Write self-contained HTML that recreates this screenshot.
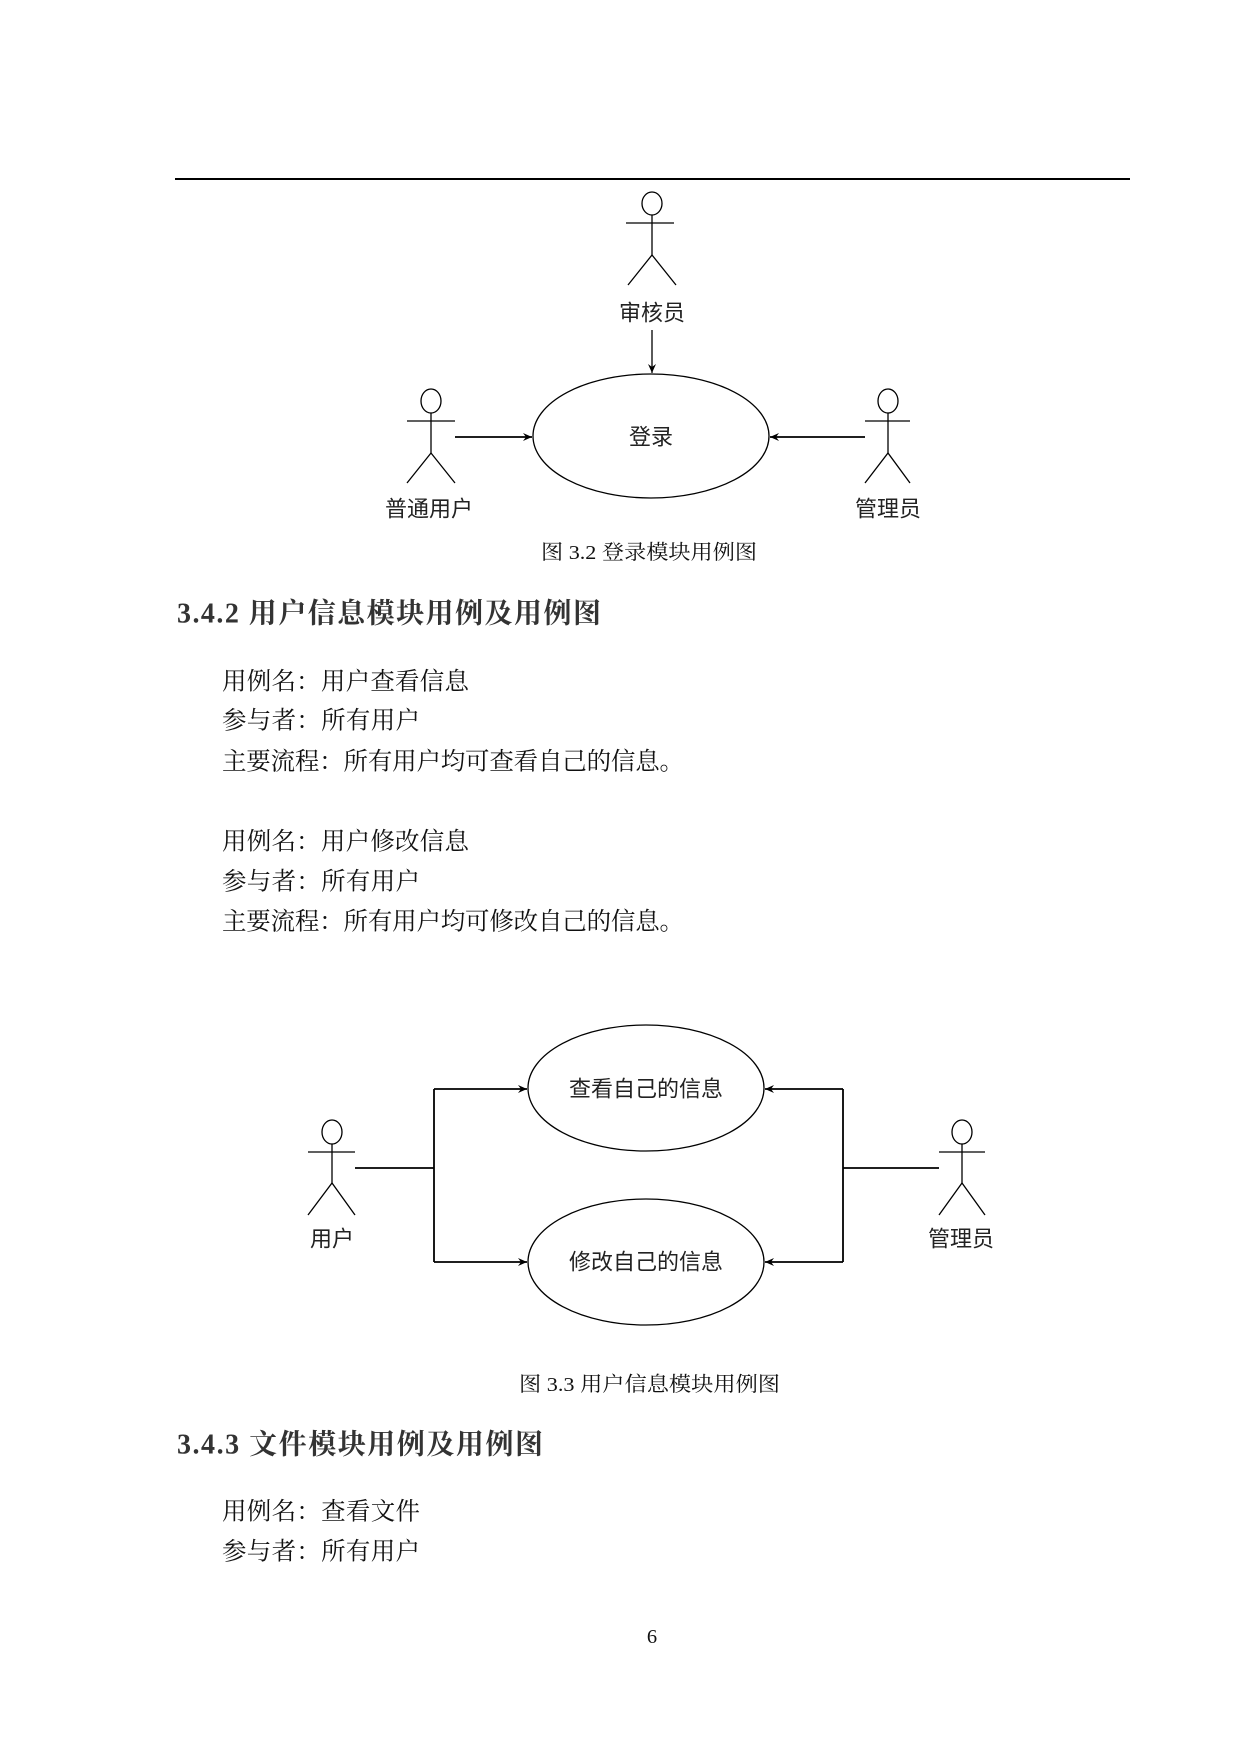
<!DOCTYPE html>
<html><head><meta charset="utf-8"><style>
html,body{margin:0;padding:0;background:#fff;}
svg{display:block;}
.b{font-family:"Liberation Serif","Noto Serif CJK SC",serif;font-size:24.5px;fill:#111;}
.h{font-family:"Liberation Serif","Noto Serif CJK SC",serif;font-size:28px;font-weight:bold;fill:#333;}
.c{font-family:"Liberation Serif","Noto Serif CJK SC",serif;font-size:20.5px;fill:#111;}
.d{font-family:"Liberation Sans","Noto Sans CJK SC",sans-serif;font-size:22px;fill:#222;}
</style></head><body>
<svg width="1240" height="1754" viewBox="0 0 1240 1754" xmlns="http://www.w3.org/2000/svg" xml:space="preserve">
<defs><marker id="a" markerWidth="10" markerHeight="10" refX="9" refY="5" orient="auto" markerUnits="userSpaceOnUse"><path d="M0,1 L9,5 L0,9 L3,5 Z" fill="#000"/></marker></defs>
<line x1="175" y1="179" x2="1130" y2="179" stroke="#000" stroke-width="2"/>
<g stroke="#000" stroke-width="1.3" fill="none">
<ellipse cx="652" cy="203.5" rx="10" ry="11.5"/>
<line x1="626" y1="223" x2="674" y2="223"/><line x1="652" y1="215" x2="652" y2="255"/>
<polyline points="628,285 652,255 676,285"/>
<ellipse cx="431" cy="401" rx="10" ry="12"/>
<line x1="407" y1="421" x2="455" y2="421"/><line x1="431" y1="413" x2="431" y2="453"/>
<polyline points="407,483 431,453 455,483"/>
<ellipse cx="888" cy="401" rx="10" ry="12"/>
<line x1="865" y1="421" x2="910" y2="421"/><line x1="888" y1="413" x2="888" y2="453"/>
<polyline points="865,483 888,453 910,483"/>
<ellipse cx="651" cy="436" rx="118" ry="62"/>
<line x1="652" y1="330" x2="652" y2="373" marker-end="url(#a)"/>
<line x1="455" y1="437" x2="532" y2="437" stroke-width="1.8" marker-end="url(#a)"/>
<line x1="865" y1="437" x2="770" y2="437" stroke-width="1.8" marker-end="url(#a)"/>
</g>
<text class="d" x="652" y="313" text-anchor="middle" dominant-baseline="central">审核员</text>
<text class="d" x="651" y="437" text-anchor="middle" dominant-baseline="central">登录</text>
<text class="d" x="429" y="509" text-anchor="middle" dominant-baseline="central">普通用户</text>
<text class="d" x="888" y="509" text-anchor="middle" dominant-baseline="central">管理员</text>
<text class="c" x="541" y="553" textLength="216" lengthAdjust="spacingAndGlyphs" dominant-baseline="central">图 3.2  登录模块用例图</text>

<text class="h" x="177" y="614" textLength="424" lengthAdjust="spacing" dominant-baseline="central">3.4.2  用户信息模块用例及用例图</text>
<text class="b" x="222" y="682" textLength="247" lengthAdjust="spacing" dominant-baseline="central">用例名：用户查看信息</text>
<text class="b" x="222" y="721" textLength="198" lengthAdjust="spacing" dominant-baseline="central">参与者：所有用户</text>
<text class="b" x="222" y="762" textLength="462" lengthAdjust="spacing" dominant-baseline="central">主要流程：所有用户均可查看自己的信息。</text>
<text class="b" x="222" y="842" textLength="247" lengthAdjust="spacing" dominant-baseline="central">用例名：用户修改信息</text>
<text class="b" x="222" y="882" textLength="198" lengthAdjust="spacing" dominant-baseline="central">参与者：所有用户</text>
<text class="b" x="222" y="922" textLength="462" lengthAdjust="spacing" dominant-baseline="central">主要流程：所有用户均可修改自己的信息。</text>

<g stroke="#000" stroke-width="1.3" fill="none">
<ellipse cx="646" cy="1088" rx="118" ry="63"/>
<ellipse cx="646" cy="1262" rx="118" ry="63"/>
<ellipse cx="332" cy="1132" rx="10" ry="12"/>
<line x1="308" y1="1152" x2="355" y2="1152"/><line x1="332" y1="1144" x2="332" y2="1183"/>
<polyline points="308,1215 332,1183 355,1215"/>
<ellipse cx="962" cy="1132" rx="10" ry="12"/>
<line x1="939" y1="1152" x2="985" y2="1152"/><line x1="962" y1="1144" x2="962" y2="1183"/>
<polyline points="939,1215 962,1183 985,1215"/>
<g stroke-width="1.8">
<line x1="355" y1="1168" x2="434" y2="1168"/>
<line x1="434" y1="1089" x2="434" y2="1262"/>
<line x1="434" y1="1089" x2="527" y2="1089" marker-end="url(#a)"/>
<line x1="434" y1="1262" x2="527" y2="1262" marker-end="url(#a)"/>
<line x1="939" y1="1168" x2="843" y2="1168"/>
<line x1="843" y1="1089" x2="843" y2="1262"/>
<line x1="843" y1="1089" x2="765" y2="1089" marker-end="url(#a)"/>
<line x1="843" y1="1262" x2="765" y2="1262" marker-end="url(#a)"/>
</g>
</g>
<text class="d" x="646" y="1089" text-anchor="middle" dominant-baseline="central">查看自己的信息</text>
<text class="d" x="646" y="1262" text-anchor="middle" dominant-baseline="central">修改自己的信息</text>
<text class="d" x="332" y="1239" text-anchor="middle" dominant-baseline="central">用户</text>
<text class="d" x="961" y="1239" text-anchor="middle" dominant-baseline="central">管理员</text>
<text class="c" x="519" y="1385" textLength="261" lengthAdjust="spacingAndGlyphs" dominant-baseline="central">图 3.3  用户信息模块用例图</text>

<text class="h" x="177" y="1445" textLength="366" lengthAdjust="spacing" dominant-baseline="central">3.4.3  文件模块用例及用例图</text>
<text class="b" x="222" y="1512" textLength="198" lengthAdjust="spacing" dominant-baseline="central">用例名：查看文件</text>
<text class="b" x="222" y="1552" textLength="198" lengthAdjust="spacing" dominant-baseline="central">参与者：所有用户</text>
<text class="c" x="652" y="1637" text-anchor="middle" dominant-baseline="central">6</text>
</svg>
</body></html>
